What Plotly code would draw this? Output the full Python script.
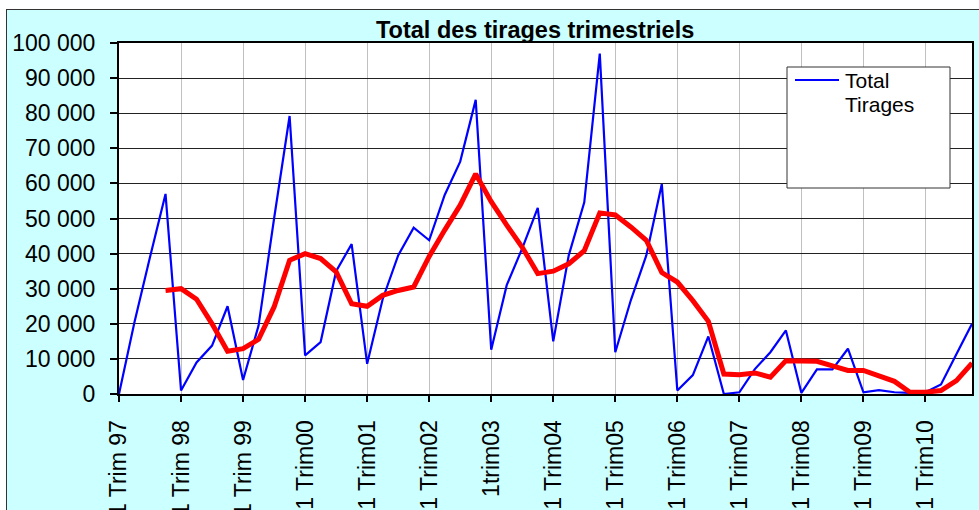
import plotly.graph_objects as go

# Quarterly totals, Q1 1997 .. Q4 2010
total_tirages = [
    0, 20500, 39000, 57000,
    1000, 9000, 13800, 25000,
    4000, 19500, 50000, 79200,
    11000, 14800, 35000, 42700,
    8600, 27000, 39500, 47400,
    43800, 56700, 66200, 83800,
    12600, 31000, 41500, 53000,
    15000, 39500, 54600, 97000,
    11900, 26700, 39500, 59800,
    1000, 5400, 16400, 0,
    500, 7100, 11900, 18100,
    300, 7000, 7000, 12900,
    500, 1100, 500, 300,
    500, 2700, 11400, 20000,
]

# 4-quarter moving average, first value at Q4 1997
moyenne_mobile = [
    29500, 30000, 27000, 20000, 12200, 12900, 15600, 24800, 38100,
    40000, 38600, 34800, 25700, 25000, 28100, 29500, 30500, 39200,
    46700, 53800, 62700, 54800, 48100, 41800, 34300, 35000, 37100,
    40800, 51600, 51000, 47600, 43800, 34600, 31900, 26600, 20700,
    5700, 5500, 6000, 4800, 9500, 9500, 9300, 8000, 6700, 6700,
    5200, 3600, 500, 500, 1000, 3800, 8800,
]

annees = [
    "1 Trim 97", "1 Trim 98", "1 Trim 99", "1 Trim00", "1 Trim01",
    "1 Trim02", "1trim03", "1 Trim04", "1 Trim05", "1 Trim06",
    "1 Trim07", "1 Trim08", "1 Trim09", "1 Trim10",
]

y_ticks = list(range(0, 100001, 10000))
y_labels = ["0"] + [f"{v // 1000} 000" for v in y_ticks[1:]]

W, H = 979, 510
L, R, T, B = 119, 7, 43, 116
PW, PH = W - L - R, H - T - B


def px(x):
    return (x - L) / PW


def py(y):
    return (H - B - y) / PH


FONT = "Arial, Liberation Sans, sans-serif"
CYAN = "#CCFFFF"

fig = go.Figure()
fig.add_trace(go.Scatter(
    x=list(range(len(total_tirages))), y=total_tirages,
    mode="lines", name="Total Tirages",
    line=dict(color="#0000FF", width=2.2), showlegend=False,
))
fig.add_trace(go.Scatter(
    x=list(range(3, 3 + len(moyenne_mobile))), y=moyenne_mobile,
    mode="lines", name="Moyenne mobile",
    line=dict(color="#FF0000", width=5), showlegend=False,
))

shapes = [
    # white margin above and left of the chart area
    dict(type="rect", xref="paper", yref="paper", x0=px(-5), x1=px(W + 5),
         y0=py(9), y1=py(-5), fillcolor="white", line=dict(width=0), layer="above"),
    dict(type="rect", xref="paper", yref="paper", x0=px(-5), x1=px(6),
         y0=py(H + 20), y1=py(9), fillcolor="white", line=dict(width=0), layer="above"),
    # chart area border
    dict(type="line", xref="paper", yref="paper", x0=px(6), x1=px(W + 5),
         y0=py(9.5), y1=py(9.5), line=dict(color="#333333", width=1), layer="above"),
    dict(type="line", xref="paper", yref="paper", x0=px(6.5), x1=px(6.5),
         y0=py(9), y1=py(H + 20), line=dict(color="#333333", width=1), layer="above"),
    # legend box
    dict(type="rect", xref="paper", yref="paper", x0=px(787), x1=px(950),
         y0=py(188), y1=py(67), fillcolor="white",
         line=dict(color="#333333", width=1), layer="above"),
    dict(type="line", xref="paper", yref="paper", x0=px(795), x1=px(839),
         y0=py(80), y1=py(80), line=dict(color="#0000FF", width=2.2), layer="above"),
]

annotations = [
    dict(text="<b>Total des tirages trimestriels</b>", xref="paper", yref="paper",
         x=px(535), y=py(30), xanchor="center", yanchor="middle", showarrow=False,
         font=dict(family=FONT, size=23.5, color="black")),
    dict(text="Total", xref="paper", yref="paper",
         x=px(843), y=py(80), xanchor="left", yanchor="middle",
         showarrow=False, font=dict(family=FONT, size=21, color="black")),
    dict(text="Tirages", xref="paper", yref="paper",
         x=px(843), y=py(105), xanchor="left", yanchor="middle",
         showarrow=False, font=dict(family=FONT, size=21, color="black")),
]

fig.update_layout(
    width=W, height=H,
    margin=dict(l=L, r=R, t=T, b=B, pad=0, autoexpand=False),
    paper_bgcolor=CYAN, plot_bgcolor="white",
    font=dict(family=FONT, color="black"),
    shapes=shapes, annotations=annotations,
    showlegend=False,
)

fig.update_xaxes(
    range=[0, len(total_tirages) - 1],
    tickmode="array", tickvals=list(range(0, 4 * len(annees), 4)), ticktext=annees,
    tickangle=-90, tickfont=dict(family=FONT, size=23, color="black"),
    ticks="outside", ticklen=6, tickwidth=2, tickcolor="black",
    ticklabelstandoff=9, automargin=False,
    showgrid=True, gridcolor="#C0C0C0", gridwidth=1,
    showline=True, linecolor="black", linewidth=2, mirror=True,
    zeroline=False, fixedrange=True,
)
fig.update_yaxes(
    range=[0, 100000],
    tickmode="array", tickvals=y_ticks, ticktext=y_labels,
    tickfont=dict(family=FONT, size=23, color="black"),
    ticks="outside", ticklen=7, tickwidth=1.5, tickcolor="black",
    ticklabelstandoff=10, automargin=False,
    showgrid=True, gridcolor="#222222", gridwidth=1,
    showline=True, linecolor="black", linewidth=2, mirror=True,
    zeroline=False, fixedrange=True,
)

fig.write_html("out.html")
